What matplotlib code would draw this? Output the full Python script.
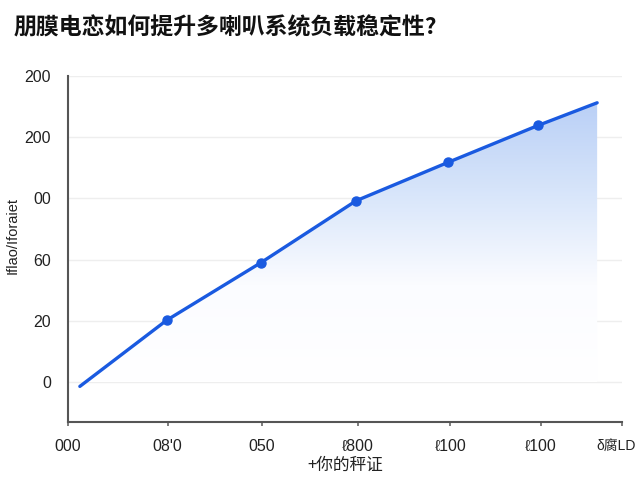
import numpy as np
import matplotlib
matplotlib.use("Agg")
import matplotlib.pyplot as plt
import matplotlib.transforms as mtransforms
from matplotlib.colors import LinearSegmentedColormap

plt.rcParams['font.family'] = ['Liberation Sans', 'Noto Sans CJK SC', 'DejaVu Sans']

title = "朋膜电恋如何提升多喇叭系统负载稳定性?"
x_label = "+你的秤证"
y_label = "Iflao/Iforaiet"

x_tick_pos = [0, 1.08, 2.10, 3.14, 4.14, 5.12, 6.0]
x_tick_labels = ["000", "08'0", "050", "ℓ800", "ℓ100", "ℓ100", "δ腐LD"]
y_tick_pos = [0, 20, 40, 60, 80, 100]
y_tick_labels = ["0", "20", "60", "00", "200", "200"]

line_x = [0.13, 1.07, 2.09, 3.12, 4.12, 5.09, 5.73]
line_y = [-1.4, 20.2, 39.0, 59.2, 71.8, 83.8, 91.2]
marker_idx = [1, 2, 3, 4, 5]

fig = plt.figure(figsize=(6.4, 4.8), dpi=100)
ax = fig.add_axes([0.106, 0.121, 0.866, 0.721])

ymin, ymax = -13, 100
xmin, xmax = 0, 6.0
ax.set_xlim(xmin, xmax)
ax.set_ylim(ymin, ymax)

# gradient fill
cmap = LinearSegmentedColormap.from_list("g", ["#ffffff", "#fbfcff", "#d6e4fa", "#b6cdf6"])
grad = np.linspace(0, 1, 256).reshape(-1, 1)
im = ax.imshow(grad, cmap=cmap, aspect='auto', origin='lower',
               extent=[xmin, xmax, 0, 95], zorder=1)
poly = ax.fill_between(line_x, line_y, ymin, color='none', lw=0)
path = poly.get_paths()[0]
im.set_clip_path(path, transform=ax.transData)

ax.plot(line_x, line_y, color="#1a5ae0", lw=2.4, zorder=3, solid_capstyle='round')
ax.plot([line_x[i] for i in marker_idx], [line_y[i] for i in marker_idx],
        'o', color="#1a5ae0", ms=6.5, zorder=4)

for yv in y_tick_pos:
    ax.axhline(yv, color="#eeeeee", lw=1.0, zorder=0)

ax.set_xticks(x_tick_pos)
ax.set_xticklabels(x_tick_labels, fontsize=11.5, color="#222222")
ax.set_yticks(y_tick_pos)
ax.set_yticklabels(y_tick_labels, fontsize=11.5, color="#222222")
ax.tick_params(axis='y', length=0, pad=12)
ax.tick_params(axis='x', length=3, width=1.2, color="#666666", pad=9)

last = ax.get_xticklabels()[-1]
last.set_fontsize(10)
last.set_transform(last.get_transform() +
                   mtransforms.ScaledTranslation(-6 / 100, 0, fig.dpi_scale_trans))

for s in ['top', 'right']:
    ax.spines[s].set_visible(False)
for s in ['left', 'bottom']:
    ax.spines[s].set_color("#555555")
    ax.spines[s].set_linewidth(1.5)

ax.set_xlabel(x_label, fontsize=12, color="#222222", labelpad=2,
              family=['Noto Sans CJK SC', 'DejaVu Sans'])
ax.set_ylabel(y_label, fontsize=10.5, color="#222222")
ax.yaxis.set_label_coords(-0.087, 0.54)

fig.text(0.022, 0.942, title, fontsize=16.5, fontweight='bold', ha='left', va='center',
         family=['Noto Sans CJK SC', 'DejaVu Sans'], color="#111111")

fig.savefig("out.png", dpi=100, facecolor='white')
